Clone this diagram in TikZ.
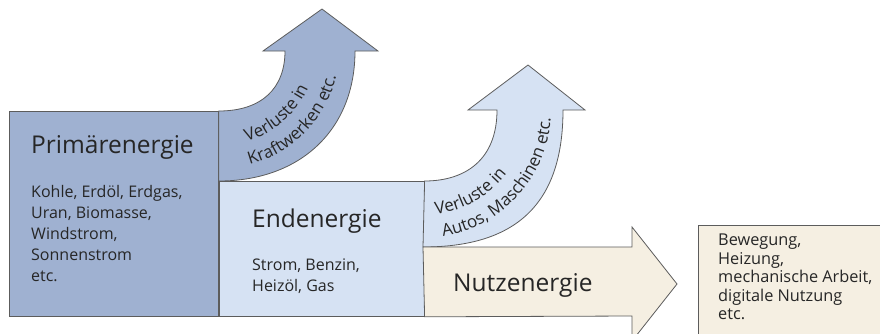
\documentclass[tikz,border=0pt]{standalone}
\usepackage{fontspec}
\setmainfont{Open Sans}
\usetikzlibrary{positioning,calc,decorations.text}
\definecolor{primblue}{HTML}{9FB1D1}
\definecolor{endblue}{HTML}{D6E2F3}
\definecolor{nutzbeige}{HTML}{F5EFE2}
\definecolor{edgegrey}{HTML}{5C5C5C}
\tikzstyle{block} = [rectangle,draw=edgegrey,line width=0.8pt,inner sep=0pt,
  anchor=north west]
\tikzstyle{flowshape} = [draw=edgegrey,line width=0.8pt]
\tikzstyle{headline} = [font=\fontsize{24.5}{28}\selectfont,inner sep=0pt,
  anchor=base west,text=black!85]
\tikzstyle{bodytext} = [font=\fontsize{16}{21}\selectfont,align=left,
  inner sep=0pt,anchor=north west,text=black!85]
\tikzset{losstext/.style={decorate,decoration={text along path,text align=left,
  text color=black!85,text={|\fontsize{17}{17}\selectfont|#1}}}}

\begin{document}
\begin{tikzpicture}[x=1pt, y=-1pt]
\useasboundingbox (0,0) rectangle (880,333);
\clip (0,0) rectangle (880,333);

\node [block, fill=primblue, minimum width=209pt, minimum height=205pt] (primaer) at (9,111) {};
\node [block, fill=endblue, minimum width=205pt, minimum height=135pt, anchor=south west] (enden) at (primaer.south east) {};
\node [block, fill=nutzbeige, minimum width=200pt, minimum height=130pt] (nutzbox) at (698,225) {};

% Verluste Kraftwerke
\path [flowshape, fill=primblue] (primaer.north east) .. controls (262,111) and (285,88) .. (285,51)
  -- (263,51) -- (322,9) -- (378,51) -- (355,51)
  .. controls (355,130) and (300,181) .. (enden.north west) -- cycle;

% Verluste Autos
\path [flowshape, fill=endblue] (enden.north east) .. controls (465,181) and (497,160) .. (497,110)
  -- (468,110) -- (528,65) -- (585,110) -- (563,110)
  .. controls (563,205) and (515,247) .. (423,247) -- cycle;

% Nutzenergie
\path [flowshape, fill=nutzbeige] (enden.south east) -- (423,247) -- (632,247) -- (632,227)
  -- (677,284) -- (632,341) -- (632,316) -- cycle;

\node [headline] (primaer_title) at (31,153) {Primärenergie};
\node [bodytext] (primaer_text) at (31,185) {Kohle, Erdöl, Erdgas,\\Uran, Biomasse,\\Windstrom,\\Sonnenstrom\\etc.};

\node [headline] (enden_title) at (252,227) {Endenergie};
\node [bodytext] (enden_text) at (252,259) {Strom, Benzin,\\Heizöl, Gas};

\node [headline] (nutz_title) at (453,291) {Nutzenergie};
\node [bodytext, font=\fontsize{16.3}{18.5}\selectfont] (nutz_text) at (718,234) {Bewegung,\\Heizung,\\mechanische Arbeit,\\digitale Nutzung\\etc.};

% curved labels in the bends
\coordinate (kraft_c) at (218,47);
\coordinate (auto_c) at (423,110);
\path [losstext={Verluste in}] ($(kraft_c)+(73:99)$) arc[start angle=73, end angle=-40, radius=99];
\path [losstext={Kraftwerken etc.}] ($(kraft_c)+(75:122)$) arc[start angle=75, end angle=-40, radius=122];
\path [losstext={Verluste in}] ($(auto_c)+(83:105)$) arc[start angle=83, end angle=-40, radius=105];
\path [losstext={Autos, Maschinen etc.}] ($(auto_c)+(81:128)$) arc[start angle=81, end angle=-40, radius=128];

\end{tikzpicture}
\end{document}
